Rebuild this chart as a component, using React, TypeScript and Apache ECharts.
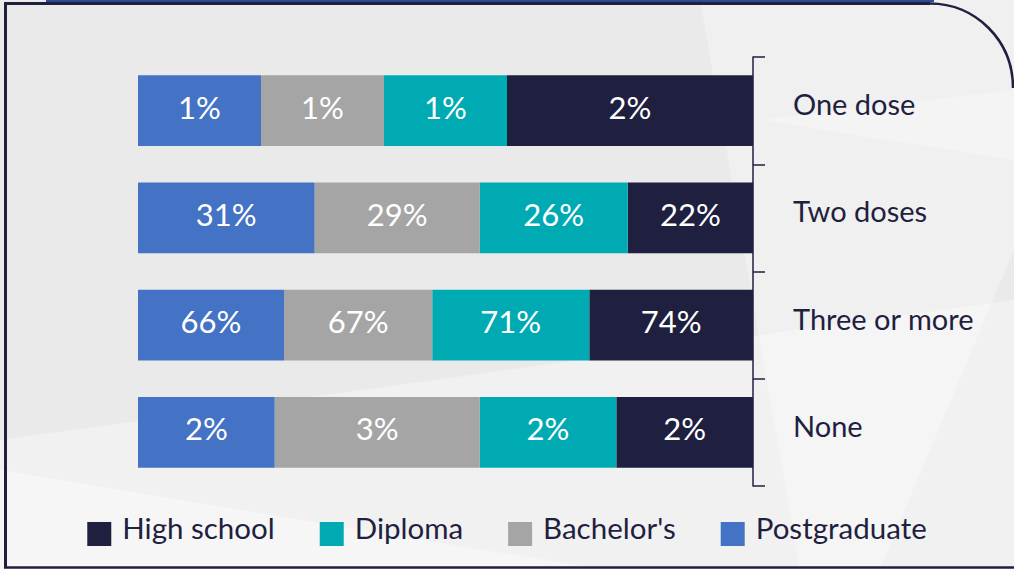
import React, { useEffect, useRef } from "react";
import * as echarts from "echarts";

const categories = ["One dose", "Two doses", "Three or more", "None"];
const seriesNames = ["High school", "Diploma", "Bachelor's", "Postgraduate"];
const highSchool = [2, 22, 74, 2];
const diploma = [1, 26, 71, 2];
const bachelors = [1, 29, 67, 3];
const postgraduate = [1, 31, 66, 2];
const colors = ["#1F1F40", "#00AAB2", "#A5A5A5", "#4472C4"];

const NAVY = "#1F1F40";
const FONT = "Lato, 'Open Sans', sans-serif";

export default function App() {
  const ref = useRef<HTMLDivElement>(null);
  useEffect(() => {
    if (!ref.current) return;
    const chart = echarts.init(ref.current, undefined, { renderer: "svg" });
    const raw = [highSchool, diploma, bachelors, postgraduate];
    const totals = categories.map((_, i) => raw.reduce((s, arr) => s + arr[i], 0));
    const series = seriesNames.map((name, si) => ({
      name,
      type: "bar",
      stack: "total",
      barCategoryGap: "34%",
      itemStyle: { color: colors[si] },
      data: raw[si].map((v, i) => ({ value: (v / totals[i]) * 100, raw: v })),
      label: {
        show: true,
        position: "inside",
        offset: [0, -4],
        color: "#FFFFFF",
        fontSize: 31,
        fontFamily: FONT,
        formatter: (p: any) => `${p.data.raw}%`,
      },
    }));
    chart.setOption({
      animation: false,
      backgroundColor: "#EAEAEA",
      graphic: [
        { type: "polygon", silent: true, z: -10, shape: { points: [[0, 440], [1014, 300], [1014, 569], [0, 569]] }, style: { fill: "rgba(255,255,255,0.35)" } },
        { type: "polygon", silent: true, z: -10, shape: { points: [[700, 0], [1014, 0], [1014, 250], [880, 569], [800, 569]] }, style: { fill: "rgba(255,255,255,0.3)" } },
        { type: "polygon", silent: true, z: -10, shape: { points: [[0, 470], [600, 569], [0, 569]] }, style: { fill: "rgba(255,255,255,0.35)" } },
        { type: "polygon", silent: true, z: -10, shape: { points: [[760, 120], [1014, 160], [1014, 90]] }, style: { fill: "rgba(255,255,255,0.3)" } },
        { type: "rect", silent: true, shape: { x: 46, y: 0, width: 888, height: 2 }, style: { fill: "#2F4B92" } },
        { type: "polyline", silent: true, shape: { points: [[5.5, 567], [5.5, 3.5], [930, 3.5]] }, style: { stroke: NAVY, lineWidth: 3, fill: "none" } },
        { type: "bezierCurve", silent: true, shape: { x1: 930, y1: 3.5, cpx1: 975, cpy1: 3.5, cpx2: 1013, cpy2: 40, x2: 1013, y2: 88 }, style: { stroke: NAVY, lineWidth: 2.5, fill: "none" } },
        { type: "line", silent: true, shape: { x1: 4, y1: 567.5, x2: 1014, y2: 567.5 }, style: { stroke: NAVY, lineWidth: 2.5 } },
      ],
      grid: { left: 138, right: 261, top: 57, bottom: 83 },
      xAxis: { type: "value", min: 0, max: 100, inverse: true, show: false },
      yAxis: {
        type: "category",
        data: categories,
        inverse: true,
        position: "right",
        axisLine: { show: true, lineStyle: { color: NAVY, width: 1.5 } },
        axisTick: { show: true, length: 12, lineStyle: { color: NAVY, width: 1.5 } },
        axisLabel: { margin: 40, color: NAVY, fontSize: 29, fontFamily: FONT, verticalAlign: "bottom", lineHeight: 14 },
        splitLine: { show: false },
      },
      legend: {
        top: 507,
        left: "center",
        icon: "rect",
        itemWidth: 24,
        itemHeight: 24,
        itemGap: 45,
        data: seriesNames,
        formatter: (name: string) => `{t|${name}}`,
        textStyle: {
          color: NAVY,
          fontSize: 29.5,
          fontFamily: FONT,
          rich: { t: { color: NAVY, fontSize: 29.5, fontFamily: FONT, padding: [0, 0, 14, 6] } },
        },
      },
      series,
    });
    return () => chart.dispose();
  }, []);
  return <div ref={ref} style={{ position: "absolute", left: 0, top: 0, width: 1014, height: 569 }} />;
}
